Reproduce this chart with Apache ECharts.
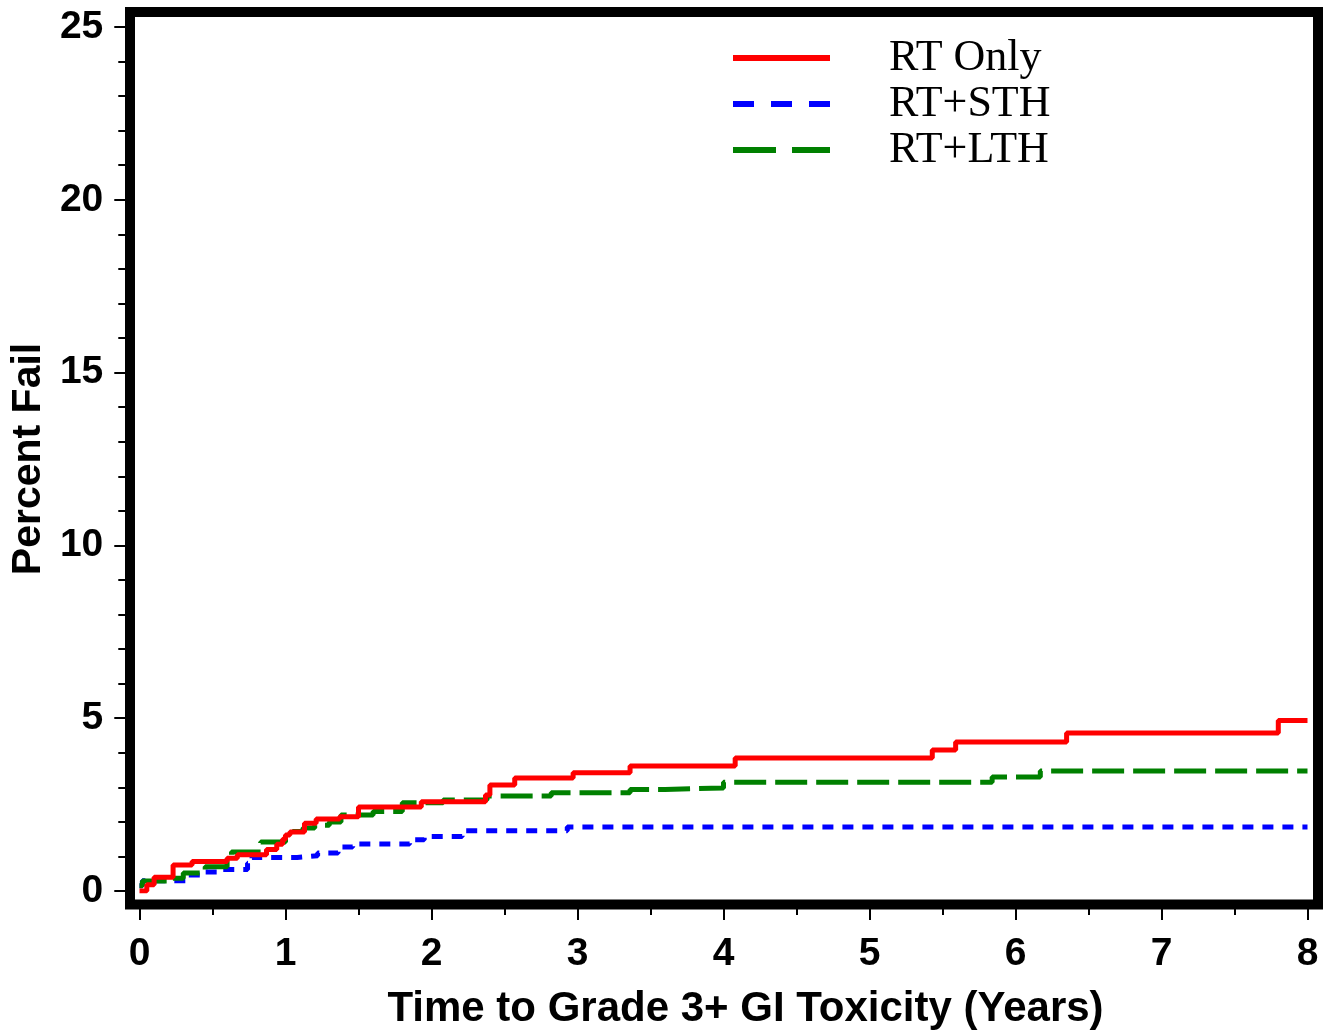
<!DOCTYPE html>
<html>
<head>
<meta charset="utf-8">
<script src="https://cdn.jsdelivr.net/npm/echarts@6/dist/echarts.min.js"></script>
<style>
html,body{margin:0;padding:0;background:#fff;}
#chart{width:1337px;height:1035px;}
</style>
</head>
<body>
<div id="chart"></div>
<script>
// ---- data (time in years, percent fail) ----
const seriesNames = ['RT Only', 'RT+STH', 'RT+LTH'];
const xTicks = [0, 1, 2, 3, 4, 5, 6, 7, 8];
const yTicks = [0, 5, 10, 15, 20, 25];

const rtOnly = [
  [0, 0], [0.05, 0.18], [0.1, 0.4], [0.23, 0.75], [0.36, 0.85], [0.6, 0.95],
  [0.67, 1.05], [0.87, 1.2], [0.94, 1.35], [0.98, 1.5], [1.0, 1.62], [1.03, 1.71],
  [1.13, 1.96], [1.21, 2.08], [1.37, 2.15], [1.5, 2.43], [1.93, 2.58], [2.37, 2.78],
  [2.4, 3.07], [2.57, 3.27], [2.97, 3.42], [3.36, 3.62], [4.08, 3.85], [5.43, 4.08],
  [5.59, 4.31], [6.35, 4.57], [7.8, 4.93], [8.0, 4.93]
];
const rtSth = [
  [0, 0.15], [0.02, 0.3], [0.32, 0.46], [0.43, 0.55], [0.53, 0.62], [0.74, 0.8],
  [0.77, 0.97], [1.08, 1.02], [1.22, 1.1], [1.36, 1.27], [1.46, 1.36], [1.85, 1.48],
  [1.95, 1.58], [2.21, 1.74], [2.93, 1.85], [8.0, 1.85]
];
const rtLth = [
  [0, 0.15], [0.02, 0.29], [0.2, 0.37], [0.3, 0.52], [0.45, 0.7], [0.6, 0.85],
  [0.63, 1.13], [0.83, 1.42], [1.0, 1.62], [1.05, 1.72], [1.12, 1.82], [1.2, 1.9],
  [1.3, 2.0], [1.38, 2.2], [1.6, 2.3], [1.8, 2.55], [2.08, 2.63], [2.38, 2.75],
  [2.82, 2.84], [3.36, 2.94], [3.6, 2.98], [4.0, 3.15], [5.84, 3.3], [6.17, 3.47],
  [8.0, 3.47]
];

const colors = ['#ff0000', '#0000ff', '#008000'];
const sans = "'Liberation Sans', Arial, sans-serif";
const serif = "'Liberation Serif', 'Times New Roman', serif";

const hiddenX = (gi) => ({ type: 'value', gridIndex: gi, min: 0, max: 8, interval: 1, show: false });
const hiddenY = (gi) => ({ type: 'value', gridIndex: gi, min: 0, max: 25, interval: 5, show: false });

const chart = echarts.init(document.getElementById('chart'));
chart.setOption({
  animation: false,
  backgroundColor: '#fff',
  grid: [
    { left: 139.5, right: 29.5, top: 27, bottom: 144 },   // data
    { left: 139.5, right: 29.5, top: 27, bottom: 126 },   // x ticks (below frame)
    { left: 125, right: 29.5, top: 27, bottom: 144 }      // y ticks (left of frame)
  ],
  legend: {
    orient: 'vertical',
    left: 725,
    top: 31,
    itemWidth: 97,
    itemHeight: 14,
    itemGap: 2,
    textStyle: { fontFamily: serif, fontSize: 44, color: '#000', padding: [0, 0, 0, 54] },
    data: [
      { name: seriesNames[0], itemStyle: { opacity: 0 }, lineStyle: { width: 6 } },
      { name: seriesNames[1], itemStyle: { opacity: 0 }, lineStyle: { width: 6, type: [21, 17] } },
      { name: seriesNames[2], itemStyle: { opacity: 0 }, lineStyle: { width: 6, type: [43, 16] } }
    ]
  },
  xAxis: [
    hiddenX(0),
    {
      type: 'value', gridIndex: 1, min: 0, max: 8, interval: 1,
      name: 'Time to Grade 3+ GI Toxicity (Years)', nameLocation: 'middle', nameGap: 84,
      nameTextStyle: { fontFamily: sans, fontWeight: 'bold', fontSize: 42, color: '#000', padding: [0, 0, 0, 44] },
      axisLine: { show: false },
      axisTick: { show: true, length: 16, lineStyle: { color: '#000', width: 2 } },
      minorTick: { show: true, splitNumber: 2, length: 11, lineStyle: { color: '#000', width: 2 } },
      axisLabel: { fontFamily: sans, fontWeight: 'bold', fontSize: 39, color: '#000', margin: 31,
        formatter: v => String(xTicks[xTicks.indexOf(v)]) },
      splitLine: { show: false }
    },
    hiddenX(2)
  ],
  yAxis: [
    hiddenY(0),
    hiddenY(1),
    {
      type: 'value', gridIndex: 2, min: 0, max: 25, interval: 5,
      name: 'Percent Fail', nameLocation: 'middle', nameGap: 75,
      nameTextStyle: { fontFamily: sans, fontWeight: 'bold', fontSize: 41, color: '#000' },
      axisLine: { show: false },
      axisTick: { show: true, length: 12, lineStyle: { color: '#000', width: 2 } },
      minorTick: { show: true, splitNumber: 5, length: 8, lineStyle: { color: '#000', width: 2 } },
      axisLabel: { fontFamily: sans, fontWeight: 'bold', fontSize: 39, color: '#000', margin: 23,
        formatter: v => String(yTicks[yTicks.indexOf(v)]) },
      splitLine: { show: false }
    }
  ],
  series: [
    { name: seriesNames[0], type: 'line', step: 'end', data: rtOnly, symbol: 'none',
      xAxisIndex: 0, yAxisIndex: 0,
      color: colors[0], lineStyle: { width: 5, color: colors[0], type: 'solid' }, z: 5 },
    { name: seriesNames[1], type: 'line', step: 'end', data: rtSth, symbol: 'none',
      xAxisIndex: 0, yAxisIndex: 0,
      color: colors[1], lineStyle: { width: 5, color: colors[1], type: [11, 9] }, z: 3 },
    { name: seriesNames[2], type: 'line', step: 'end', data: rtLth, symbol: 'none',
      xAxisIndex: 0, yAxisIndex: 0,
      color: colors[2], lineStyle: { width: 5, color: colors[2], type: [32, 9] }, z: 4 }
  ],
  graphic: [
    { type: 'rect', z: 100, silent: true,
      shape: { x: 130, y: 12, width: 1188, height: 892.5 },
      style: { fill: 'none', stroke: '#000', lineWidth: 10 } }
  ]
});
</script>
</body>
</html>
